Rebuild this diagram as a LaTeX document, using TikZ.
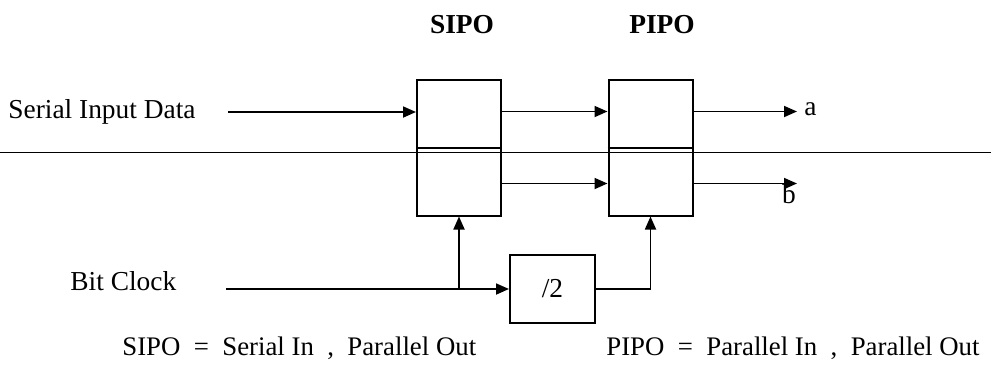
\documentclass[tikz,border=0pt]{standalone}
\usepackage{fontspec}
\setmainfont{Liberation Serif}
\usetikzlibrary{arrows.meta,calc,positioning}

\begin{document}
\begin{tikzpicture}[
      x=0.5pt,y=-0.5pt,
      font=\fontsize{13.7}{16}\selectfont,
      reg/.style={draw,line width=1pt,minimum width=42pt,minimum height=68pt,inner sep=0pt},
      dv/.style={draw,line width=1pt,minimum width=42.5pt,minimum height=34pt,inner sep=0pt},
      arr/.style={line width=0.9pt,-{Triangle[length=6.5pt,width=5.5pt]}},
      defn/.style={anchor=west,inner sep=0pt,font=\fontsize{13.4}{16}\selectfont}
    ]
      \useasboundingbox (0,0) rectangle (991,376);
      % stray rule across the page
      \draw[line width=0.5pt] (0,152) -- (991,152);

      \node[reg] (sipo) at (459,147.5) {};
      \node[reg] (pipo) at (650.5,147.5) {};
      \draw[line width=1pt] (sipo.west) -- (sipo.east);
      \draw[line width=1pt] (pipo.west) -- (pipo.east);
      \node[dv] (div) at (552.5,289) {/2};

      \node[font=\fontsize{13.7}{16}\selectfont\bfseries] (sipot) at (462,25) {SIPO};
      \node[font=\fontsize{13.7}{16}\selectfont\bfseries] (pipot) at (662,25) {PIPO};

      \node[anchor=west,inner sep=0pt] (sin) at (8,112) {Serial Input Data};
      \node[anchor=west,inner sep=0pt] (clk) at (70,281) {Bit Clock};
      \coordinate (sinst) at (228,112);
      \coordinate (clkst) at (226,289);
      \coordinate (aend) at (797,111.5);
      \coordinate (bend) at (797,183.5);

      \draw[arr] (sinst) -- (sipo.west |- sinst);
      \draw[arr] ([yshift=18pt]sipo.east) -- ([yshift=18pt]pipo.west);
      \draw[arr] ([yshift=-18pt]sipo.east) -- ([yshift=-18pt]pipo.west);
      \draw[arr] ([yshift=18pt]pipo.east) -- (aend);
      \draw[arr] ([yshift=-18pt]pipo.east) -- (bend);
      \node[anchor=west,inner sep=0pt] (a) at (804,109) {a};
      \node[anchor=north,inner sep=0pt] (b) at (789,184) {b};

      \draw[arr] (clkst) -- (div.west);
      \coordinate (tap) at (sipo.south |- div.west);
      \draw[arr] (tap) -- (sipo.south);
      \draw[arr] (div.east) -| (pipo.south);

      \node[defn] (sipodef) at (122,348) {SIPO\ \ =\ \ Serial In\ \ ,\ \ Parallel Out};
      \node[defn] (pipodef) at (606,348) {PIPO\ \ =\ \ Parallel In\ \ ,\ \ Parallel Out};
    \end{tikzpicture}
\end{document}
